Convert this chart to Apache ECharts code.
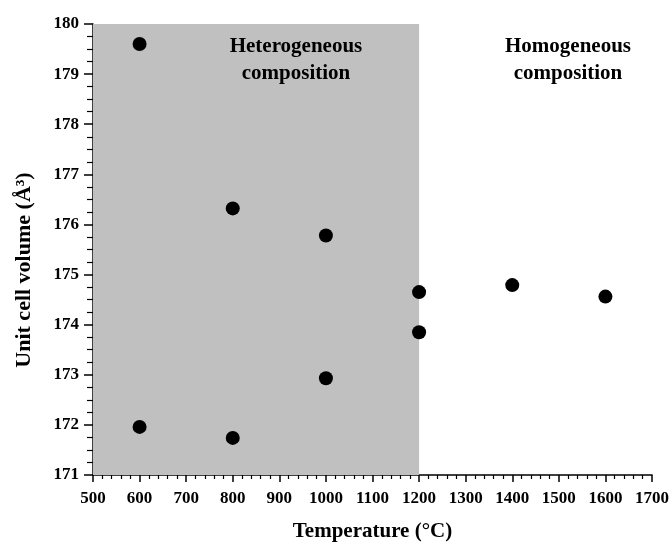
<!DOCTYPE html>
<html>
<head>
<meta charset="utf-8">
<script src="https://cdn.jsdelivr.net/npm/echarts@6/dist/echarts.min.js"></script>
<style>
  html, body { margin: 0; padding: 0; background: #fff; }
  #chart { width: 670px; height: 542px; }
</style>
</head>
<body>
<div id="chart"></div>
<script>
// temperature (°C) vs unit cell volume (Å³)
const temps = [600, 600, 800, 800, 1000, 1000, 1200, 1200, 1400, 1600]
const volumes = [179.6, 171.96, 176.32, 171.74, 175.78, 172.93, 174.65, 173.85, 174.79, 174.56]
const heteroRange = [500, 1200]

const font = 'Liberation Serif, Times New Roman, serif'
const chart = echarts.init(document.getElementById('chart'))

chart.setOption({
  animation: false,
  grid: { left: 93, right: 18, top: 24, bottom: 67, containLabel: false, outerBoundsMode: 'none' },
  xAxis: {
    type: 'value',
    min: 500,
    max: 1700,
    interval: 100,
    name: 'Temperature (°C)',
    nameLocation: 'middle',
    nameGap: 46,
    nameTextStyle: { fontFamily: font, fontWeight: 'bold', fontSize: 21, color: '#000' },
    axisLine: { show: true, onZero: false, lineStyle: { color: '#000', width: 1.5 } },
    axisTick: { show: true, length: 7, lineStyle: { color: '#000', width: 1.5 } },
    minorTick: { show: true, splitNumber: 5, length: 4, lineStyle: { color: '#000', width: 1.2 } },
    axisLabel: { fontFamily: font, fontWeight: 'bold', fontSize: 17, color: '#000', margin: 15, formatter: (v) => String(v) },
    splitLine: { show: false },
  },
  yAxis: {
    type: 'value',
    min: 171,
    max: 180,
    interval: 1,
    axisLine: { show: true, onZero: false, lineStyle: { color: '#000', width: 1.5 } },
    axisTick: { show: true, length: 9, lineStyle: { color: '#000', width: 1.5 } },
    minorTick: { show: true, splitNumber: 4, length: 6, lineStyle: { color: '#000', width: 1.2 } },
    axisLabel: { fontFamily: font, fontWeight: 'bold', fontSize: 17, color: '#000', margin: 14 },
    splitLine: { show: false },
  },
  series: [
    {
      type: 'scatter',
      data: temps.map((t, i) => [t, volumes[i]]),
      symbolSize: 14,
      itemStyle: { color: '#000', opacity: 1 },
      z: 5,
      markArea: {
        silent: true,
        itemStyle: { color: '#c0c0c0', opacity: 1 },
        data: [[{ xAxis: heteroRange[0] }, { xAxis: heteroRange[1] }]],
      },
    },
  ],
  graphic: [
    {
      type: 'text',
      x: 24, y: 270,
      rotation: Math.PI / 2,
      z: 100,
      style: {
        text: 'Unit cell volume (Å³)',
        textAlign: 'center',
        textVerticalAlign: 'middle',
        font: 'bold 22px ' + font,
        fill: '#000',
      },
    },
    {
      type: 'text',
      x: 296, y: 60,
      z: 100,
      style: {
        text: 'Heterogeneous\ncomposition',
        textAlign: 'center',
        textVerticalAlign: 'middle',
        font: 'bold 21px ' + font,
        lineHeight: 27,
        fill: '#000',
      },
    },
    {
      type: 'text',
      x: 568, y: 60,
      z: 100,
      style: {
        text: 'Homogeneous\ncomposition',
        textAlign: 'center',
        textVerticalAlign: 'middle',
        font: 'bold 21px ' + font,
        lineHeight: 27,
        fill: '#000',
      },
    },
  ],
})
</script>
</body>
</html>
